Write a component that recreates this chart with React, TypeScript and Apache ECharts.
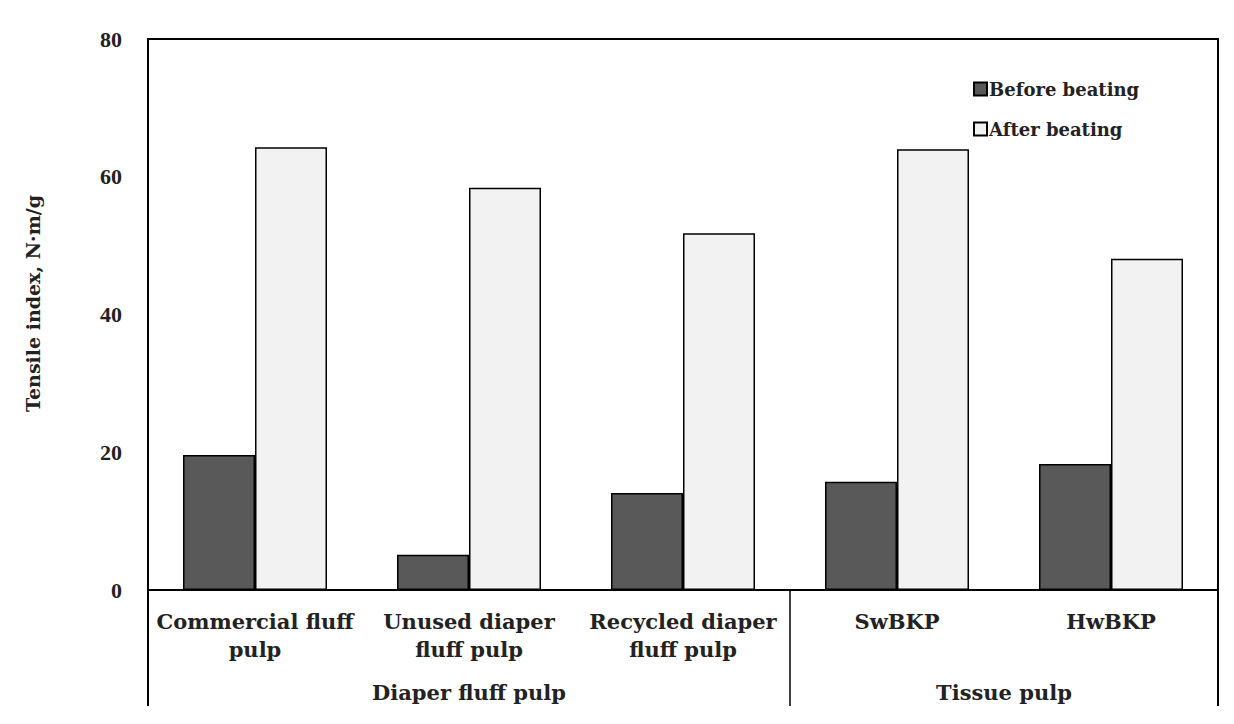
import React, { useEffect, useRef } from "react";
import * as echarts from "echarts";

const categories = [
  "Commercial fluff\npulp",
  "Unused diaper\nfluff pulp",
  "Recycled diaper\nfluff pulp",
  "SwBKP",
  "HwBKP",
];
const beforeBeating = [19.6, 5.1, 14.1, 15.7, 18.3];
const afterBeating = [64.3, 58.4, 51.8, 64.0, 48.1];
const groupLabels = ["Diaper fluff pulp", "Tissue pulp"];
const yTicks = { min: 0, max: 80, interval: 20 };

const SERIF = "'Liberation Serif', 'Times New Roman', serif";
const WIDE = "'DejaVu Serif', 'Liberation Serif', serif";

export default function App() {
  const ref = useRef<HTMLDivElement>(null);
  useEffect(() => {
    if (!ref.current) return;
    const chart = echarts.init(ref.current, undefined, { renderer: "svg" });
    const L = 148, R = 16, T = 39, B = 134;
    const W = 1234, H = 724;
    const plotW = W - L - R;
    const bottomY = H - B;
    const catW = plotW / categories.length;
    const sepX = L + catW * 3;
    const lineEnd = 706;
    const labelStyle = {
      fontFamily: WIDE,
      fontWeight: "bold",
      fontSize: 21,
      fill: "#222",
      align: "center",
      verticalAlign: "middle",
    };
    chart.setOption({
      animation: false,
      backgroundColor: "#ffffff",
      textStyle: { fontFamily: SERIF },
      grid: {
        left: L,
        right: R,
        top: T,
        bottom: B,
        show: true,
        borderColor: "#000",
        borderWidth: 2,
        containLabel: false,
      },
      legend: {
        orient: "vertical",
        left: 968,
        top: 75,
        itemWidth: 13,
        itemHeight: 13,
        itemGap: 22,
        icon: "rect",
        textStyle: {
          fontFamily: WIDE,
          fontWeight: "bold",
          fontSize: 18,
          color: "#222",
          padding: [0, 0, 0, -3],
        },
        data: ["Before beating", "After beating"],
      },
      xAxis: {
        type: "category",
        data: categories,
        axisLine: { show: true, lineStyle: { color: "#000", width: 2 } },
        axisTick: { show: false },
        axisLabel: {
          interval: 0,
          margin: 17,
          fontFamily: WIDE,
          fontWeight: "bold",
          fontSize: 21,
          lineHeight: 28,
          color: "#222",
        },
        splitLine: { show: false },
      },
      yAxis: {
        type: "value",
        min: yTicks.min,
        max: yTicks.max,
        interval: yTicks.interval,
        axisLine: { show: true, lineStyle: { color: "#000", width: 2 } },
        axisTick: { show: false },
        splitLine: { show: false },
        axisLabel: {
          margin: 26,
          fontFamily: SERIF,
          fontWeight: "bold",
          fontSize: 22,
          color: "#222",
        },
        name: "Tensile index, N·m/g",
        nameLocation: "middle",
        nameGap: 106,
        nameTextStyle: {
          fontFamily: WIDE,
          fontWeight: "bold",
          fontSize: 19,
          color: "#222",
          padding: [0, 0, 0, 22],
        },
      },
      series: [
        {
          name: "Before beating",
          type: "bar",
          data: beforeBeating,
          barWidth: 72,
          barGap: "0%",
          itemStyle: { color: "#595959", borderColor: "#000", borderWidth: 1.5 },
        },
        {
          name: "After beating",
          type: "bar",
          data: afterBeating,
          barWidth: 72,
          barGap: "0%",
          itemStyle: { color: "#f2f2f2", borderColor: "#000", borderWidth: 1.5 },
        },
      ],
      graphic: [
        { type: "line", shape: { x1: L, y1: bottomY, x2: L, y2: lineEnd }, style: { stroke: "#000", lineWidth: 2 } },
        { type: "line", shape: { x1: sepX, y1: bottomY, x2: sepX, y2: lineEnd }, style: { stroke: "#000", lineWidth: 1.5 } },
        { type: "line", shape: { x1: W - R, y1: bottomY, x2: W - R, y2: lineEnd }, style: { stroke: "#000", lineWidth: 2 } },
        { type: "text", x: (L + sepX) / 2, y: 692, style: { ...labelStyle, text: groupLabels[0] } },
        { type: "text", x: (sepX + W - R) / 2, y: 692, style: { ...labelStyle, text: groupLabels[1] } },
      ],
    });
    return () => chart.dispose();
  }, []);
  return <div ref={ref} style={{ width: 1234, height: 724, position: "absolute", left: 0, top: 0 }} />;
}
